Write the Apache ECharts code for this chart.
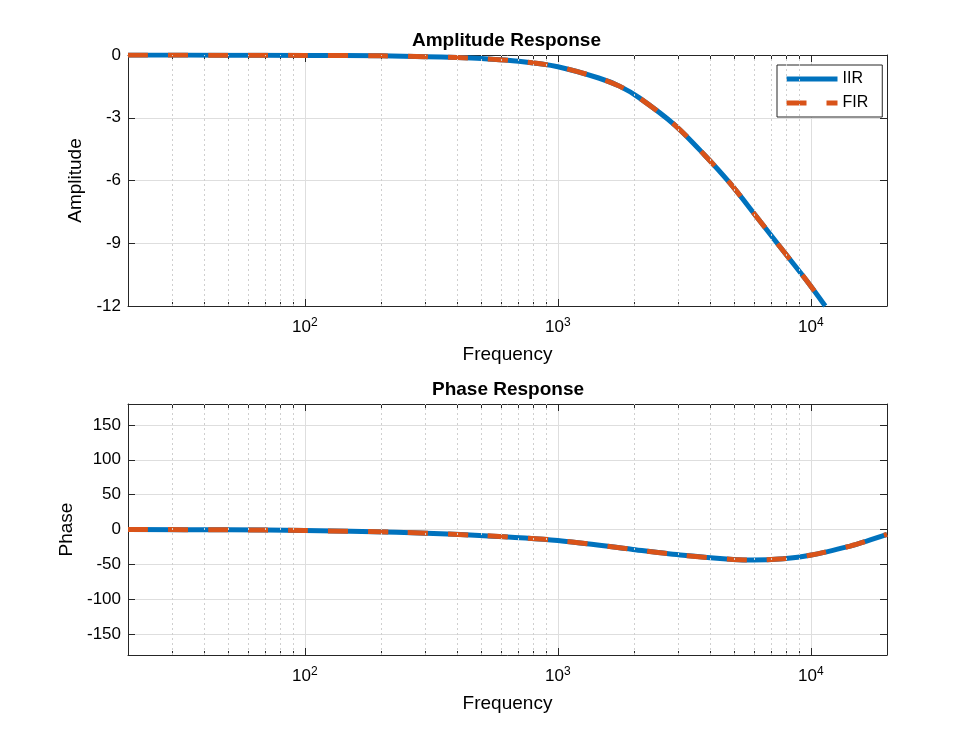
<!DOCTYPE html>
<html>
<head>
<meta charset="utf-8">
<script src="https://cdn.jsdelivr.net/npm/echarts@6/dist/echarts.min.js"></script>
<style>
html, body { margin: 0; padding: 0; background: #fff; }
#main { width: 980px; height: 735px; }
</style>
</head>
<body>
<div id="main"></div>
<script>
// 幅频 / 相频 数据
const ampFreq = [20, 50, 100, 200, 300, 400, 500, 700, 1000, 1450, 1760, 2100, 2900, 3800, 4800, 6100, 7550, 9600, 11400];
const ampDb = [0, -0.01, -0.02, -0.04, -0.08, -0.12, -0.17, -0.3, -0.56, -1.1, -1.5, -2.05, -3.35, -4.78, -6.14, -7.73, -9.17, -10.77, -12];
const phaseFreq = [20, 50, 100, 230, 490, 1000, 1980, 3130, 4930, 5920, 7770, 9930, 14300, 16630, 20000];
const phaseDeg = [0, -0.5, -1.5, -4, -8.5, -15.7, -28.6, -37, -42.9, -43.8, -41.9, -37, -23.8, -16.7, -7];

// 刻度
const majorFreqs = [100, 1000, 10000];
const minorFreqs = [30, 40, 50, 60, 70, 80, 90, 200, 300, 400, 500, 600, 700, 800, 900,
	2000, 3000, 4000, 5000, 6000, 7000, 8000, 9000];
const ampTicks = [0, -3, -6, -9, -12];
const phaseTicks = [-150, -100, -50, 0, 50, 100, 150];

const FONT = 'Liberation Sans, Arial, Helvetica, sans-serif';
const AXIS_COLOR = '#262626';
const BLUE = '#0072BD';
const ORANGE = '#D95319';

function zip(xs, ys) {
	return xs.map((x, i) => [x, ys[i]]);
}

function logLabel(v) {
	const e = Math.round(Math.log10(v));
	if (Math.abs(Math.pow(10, e) - v) > 1e-6 * v) return '';
	return '{b|10}{s|' + e + '}';
}

// 一个子图的 x 轴 (底部主轴 + 次刻度 + 顶部镜像)
function xAxes(gridIndex, name) {
	const base = {
		type: 'log',
		logBase: 10,
		gridIndex: gridIndex,
		min: 20,
		max: 20000
	};
	const line = { show: true, onZero: false, lineStyle: { color: AXIS_COLOR, width: 1 } };
	return [
		Object.assign({}, base, {
			position: 'bottom',
			name: name,
			nameLocation: 'middle',
			nameGap: 39,
			nameTextStyle: { fontFamily: FONT, fontSize: 19, color: '#000' },
			axisLine: line,
			axisTick: { show: true, inside: true, length: 7, customValues: majorFreqs, lineStyle: { color: AXIS_COLOR } },
			axisLabel: {
				show: true,
				customValues: majorFreqs,
				margin: 11,
				formatter: logLabel,
				rich: {
					b: { fontFamily: FONT, fontSize: 17, color: '#000', lineHeight: 20 },
					s: { fontFamily: FONT, fontSize: 12, color: '#000', lineHeight: 12, verticalAlign: 'top', padding: [0, 0, 8, 0] }
				}
			},
			splitLine: { show: true, lineStyle: { color: '#dedede', width: 1 } }
		}),
		Object.assign({}, base, {
			position: 'bottom',
			axisLine: { show: false, onZero: false },
			axisTick: { show: true, inside: true, length: 4, customValues: minorFreqs, lineStyle: { color: AXIS_COLOR } },
			axisLabel: { show: false },
			splitLine: { show: false }
		}),
		Object.assign({}, base, {
			position: 'top',
			axisLine: line,
			axisTick: { show: true, inside: true, length: 7, customValues: majorFreqs, lineStyle: { color: AXIS_COLOR } },
			axisLabel: { show: false },
			splitLine: { show: false }
		}),
		Object.assign({}, base, {
			position: 'top',
			axisLine: { show: false, onZero: false },
			axisTick: { show: true, inside: true, length: 4, customValues: minorFreqs, lineStyle: { color: AXIS_COLOR } },
			axisLabel: { show: false },
			splitLine: { show: false }
		})
	];
}

function yAxes(gridIndex, name, nameGap, min, max, ticks) {
	const base = { type: 'value', gridIndex: gridIndex, min: min, max: max };
	return [
		Object.assign({}, base, {
			position: 'left',
			name: name,
			nameLocation: 'middle',
			nameGap: nameGap,
			nameTextStyle: { fontFamily: FONT, fontSize: 19, color: '#000' },
			axisLine: { show: true, onZero: false, lineStyle: { color: AXIS_COLOR, width: 1 } },
			axisTick: { show: true, inside: true, length: 7, customValues: ticks, lineStyle: { color: AXIS_COLOR } },
			axisLabel: { show: true, customValues: ticks, margin: 7, fontFamily: FONT, fontSize: 17, color: '#000' },
			splitLine: { show: true, lineStyle: { color: '#dedede', width: 1 } }
		}),
		Object.assign({}, base, {
			position: 'right',
			axisLine: { show: true, onZero: false, lineStyle: { color: AXIS_COLOR, width: 1 } },
			axisTick: { show: true, inside: true, length: 7, customValues: ticks, lineStyle: { color: AXIS_COLOR } },
			axisLabel: { show: false },
			splitLine: { show: false }
		})
	];
}

// 次网格线 (虚线)
const minorLines = {
	silent: true,
	symbol: 'none',
	animation: false,
	label: { show: false },
	lineStyle: { type: [2, 3], color: '#cfcfcf', width: 1 },
	data: minorFreqs.map((f) => ({ xAxis: f }))
};

function curve(name, data, xi, yi, isFir) {
	return {
		name: name,
		type: 'line',
		xAxisIndex: xi,
		yAxisIndex: yi,
		data: data,
		symbol: 'none',
		smooth: 0.3,
		z: isFir ? 4 : 3,
		lineStyle: {
			color: isFir ? ORANGE : BLUE,
			width: 5,
			type: isFir ? [20, 20] : 'solid',
			cap: 'butt'
		},
		itemStyle: { color: isFir ? ORANGE : BLUE },
		markLine: isFir ? undefined : minorLines
	};
}

const chart = echarts.init(document.getElementById('main'), null, { renderer: 'canvas' });

const option = {
	backgroundColor: '#fff',
	animation: false,
	title: [
		{ text: 'Amplitude Response', left: 412, top: 31, padding: 0,
			textStyle: { fontFamily: FONT, fontSize: 19, fontWeight: 'bold', color: '#000' } },
		{ text: 'Phase Response', left: 432, top: 380, padding: 0,
			textStyle: { fontFamily: FONT, fontSize: 19, fontWeight: 'bold', color: '#000' } }
	],
	legend: {
		data: ['IIR', 'FIR'],
		orient: 'vertical',
		left: 777,
		top: 65,
		padding: [6, 14, 6, 7],
		itemWidth: 51,
		itemHeight: 14,
		itemGap: 8,
		backgroundColor: '#fff',
		borderColor: AXIS_COLOR,
		borderWidth: 1,
		borderRadius: 0,
		itemStyle: { opacity: 0 },
		lineStyle: { width: 5 },
		textStyle: { fontFamily: FONT, fontSize: 16, color: '#000' }
	},
	grid: [
		{ left: 128, top: 55, width: 759, height: 251, containLabel: false },
		{ left: 128, top: 404, width: 759, height: 251, containLabel: false }
	],
	xAxis: xAxes(0, 'Frequency').concat(xAxes(1, 'Frequency')),
	yAxis: yAxes(0, 'Amplitude', 37, -12, 0, ampTicks).concat(yAxes(1, 'Phase', 50, -180, 180, phaseTicks)),
	series: [
		curve('IIR', zip(ampFreq, ampDb), 0, 0, false),
		curve('FIR', zip(ampFreq, ampDb), 0, 0, true),
		curve('IIR', zip(phaseFreq, phaseDeg), 4, 2, false),
		curve('FIR', zip(phaseFreq, phaseDeg), 4, 2, true)
	]
};

chart.setOption(option);
</script>
</body>
</html>
